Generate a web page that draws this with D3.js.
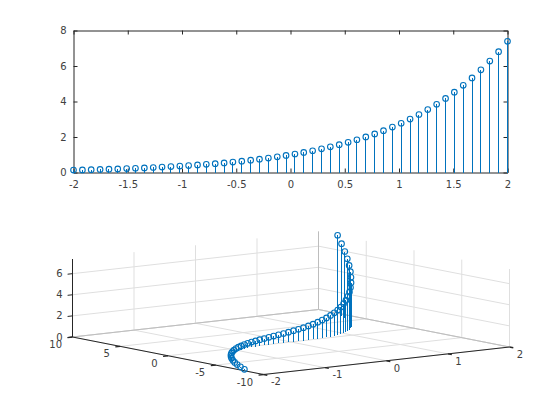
<!DOCTYPE html>
<html><head><meta charset="utf-8">
<style>html,body{margin:0;padding:0;background:#fff}svg{display:block}text{font-family:"DejaVu Sans",sans-serif;font-size:10px;fill:#404040}</style>
<script src="https://cdn.jsdelivr.net/npm/d3@7"></script>
</head><body><svg id="c" width="560" height="420"></svg>
<script>
const xValues=[-2,-1.918,-1.837,-1.755,-1.673,-1.592,-1.51,-1.429,-1.347,-1.265,-1.184,-1.102,-1.02,-0.939,-0.857,-0.776,-0.694,-0.612,-0.531,-0.449,-0.367,-0.286,-0.204,-0.122,-0.041,0.041,0.122,0.204,0.286,0.367,0.449,0.531,0.612,0.694,0.776,0.857,0.939,1.02,1.102,1.184,1.265,1.347,1.429,1.51,1.592,1.673,1.755,1.837,1.918,2];
const yValues=[-8,-7.059,-6.195,-5.407,-4.686,-4.032,-3.445,-2.915,-2.443,-2.026,-1.658,-1.339,-1.062,-0.827,-0.63,-0.467,-0.334,-0.23,-0.15,-0.09,-0.05,-0.023,-0.008,-0.002,0,0,0.002,0.008,0.023,0.05,0.09,0.15,0.23,0.334,0.467,0.63,0.827,1.062,1.339,1.658,2.026,2.443,2.915,3.445,4.032,4.686,5.407,6.195,7.059,8];
const zValues=[0.135,0.147,0.159,0.173,0.188,0.204,0.221,0.24,0.26,0.282,0.306,0.332,0.36,0.391,0.424,0.46,0.5,0.542,0.588,0.638,0.692,0.751,0.815,0.885,0.96,1.042,1.13,1.226,1.331,1.444,1.567,1.7,1.845,2.002,2.172,2.357,2.557,2.775,3.011,3.267,3.544,3.846,4.173,4.527,4.913,5.33,5.784,6.275,6.809,7.389];
const topXTicks=[-2,-1.5,-1,-0.5,0,0.5,1,1.5,2];
const topXLabels=["-2","-1.5","-1","-0.5","0","0.5","1","1.5","2"];
const topYTicks=[0,2,4,6,8];
const x3Ticks=[-2,-1,0,1,2];
const y3Ticks=[-10,-5,0,5,10];
const z3Ticks=[0,2,4,6];
const BLUE="#0072BD",DARK="#262626",GRID="#dfdfdf";
const svg=d3.select("#c");
const idx=d3.range(xValues.length);

/* top panel */
const L=73.5,R=507.5,T=30.5,B=172.5;
const sx=d3.scaleLinear().domain([-2,2]).range([L,R]);
const sy=d3.scaleLinear().domain([0,8]).range([B,T]);
const panel=svg.append("g");
const fmtX=(d,i)=>topXLabels[i];
function styleAxis(g){g.selectAll("path,line").attr("stroke",DARK).attr("stroke-width",1);g.selectAll("text").attr("fill","#404040").style("font-size","10px");}
panel.append("g").attr("transform",`translate(0,${B})`).call(d3.axisBottom(sx).tickValues(topXTicks).tickFormat(fmtX).tickSizeInner(-4).tickSizeOuter(0).tickPadding(8)).call(styleAxis);
panel.append("g").attr("transform",`translate(${L},0)`).call(d3.axisLeft(sy).tickValues(topYTicks).tickFormat(d3.format("d")).tickSizeInner(-4).tickSizeOuter(0).tickPadding(7)).call(styleAxis);
panel.append("g").attr("transform",`translate(0,${T})`).call(d3.axisTop(sx).tickValues(topXTicks).tickFormat("").tickSizeInner(-4).tickSizeOuter(0)).call(styleAxis);
panel.append("g").attr("transform",`translate(${R},0)`).call(d3.axisRight(sy).tickValues(topYTicks).tickFormat("").tickSizeInner(-4).tickSizeOuter(0)).call(styleAxis);
panel.selectAll(".stem").data(idx).join("line").attr("class","stem")
 .attr("x1",i=>sx(xValues[i])).attr("x2",i=>sx(xValues[i])).attr("y1",sy(0)).attr("y2",i=>sy(zValues[i]))
 .attr("stroke",BLUE).attr("stroke-width",1).attr("shape-rendering","crispEdges");
panel.selectAll(".mk").data(idx).join("circle").attr("class","mk")
 .attr("cx",i=>sx(xValues[i])).attr("cy",i=>sy(zValues[i])).attr("r",2.8)
 .attr("fill","none").attr("stroke",BLUE).attr("stroke-width",1.1);

/* bottom panel: orthographic projection built from linear scales */
const ux=d3.scaleLinear().domain([-2,2]).range([0,1]);
const vy=d3.scaleLinear().domain([10,-10]).range([0,1]);
const hz=d3.scaleLinear().domain([0,7.389]).range([0,78]);
const O=[72.5,337],EX=[246,-27.5],EY=[191,37.5];
const P=(x,y,z)=>{const u=ux(x),v=vy(y);return [O[0]+u*EX[0]+v*EY[0],O[1]+u*EX[1]+v*EY[1]-hz(z)];};
const g3=svg.append("g");
const seg=(a,b,c,w)=>g3.append("line").attr("x1",a[0]).attr("y1",a[1]).attr("x2",b[0]).attr("y2",b[1]).attr("stroke",c).attr("stroke-width",w||1);
const zTop=7.389;
/* grid */
x3Ticks.forEach(x=>{seg(P(x,-10,0),P(x,10,0),GRID);seg(P(x,10,0),P(x,10,zTop),GRID);});
y3Ticks.forEach(y=>{seg(P(-2,y,0),P(2,y,0),GRID);seg(P(2,y,0),P(2,y,zTop),GRID);});
z3Ticks.forEach(z=>{seg(P(-2,10,z),P(2,10,z),GRID);seg(P(2,10,z),P(2,-10,z),GRID);});
seg(P(2,10,0),P(2,10,zTop),"#bdbdbd");
seg(P(-2,10,0),P(2,10,0),"#bdbdbd");seg(P(2,10,0),P(2,-10,0),"#bdbdbd");
/* axes */
seg(P(-2,10,0),P(-2,-10,0),DARK);
seg(P(-2,-10,0),P(2,-10,0),DARK);
seg(P(-2,10,0),P(-2,10,zTop),DARK);
const lab=(p,t,a)=>g3.append("text").attr("x",p[0]).attr("y",p[1]).attr("text-anchor",a||"middle").attr("dominant-baseline","central").text(t);
const tk=0.08,tky=0.4;
y3Ticks.forEach(y=>{const a=P(-2,y,0);seg(a,P(-2-tk,y,0),DARK,1.3);lab([a[0]-10.5,a[1]+7.5],String(y),"end");});
x3Ticks.forEach(x=>{const a=P(x,-10,0);seg(a,P(x,-10-tky,0),DARK,1.3);lab([a[0]+(x<0?12.5:10.5),a[1]+7.3],String(x));});
z3Ticks.forEach(z=>{const a=P(-2,10,z);seg(a,P(-2-tk,10,z),DARK);lab([a[0]-10,a[1]],String(z),"end");});
/* stems */
g3.selectAll(".s3").data(idx).join("line").attr("class","s3")
 .attr("x1",i=>P(xValues[i],yValues[i],0)[0]).attr("y1",i=>P(xValues[i],yValues[i],0)[1])
 .attr("x2",i=>P(xValues[i],yValues[i],zValues[i])[0]).attr("y2",i=>P(xValues[i],yValues[i],zValues[i])[1])
 .attr("stroke",BLUE).attr("stroke-width",1).attr("shape-rendering","crispEdges");
g3.selectAll(".m3").data(idx).join("circle").attr("class","m3")
 .attr("cx",i=>P(xValues[i],yValues[i],zValues[i])[0]).attr("cy",i=>P(xValues[i],yValues[i],zValues[i])[1]).attr("r",2.8)
 .attr("fill","none").attr("stroke",BLUE).attr("stroke-width",1.1);
</script></body></html>
